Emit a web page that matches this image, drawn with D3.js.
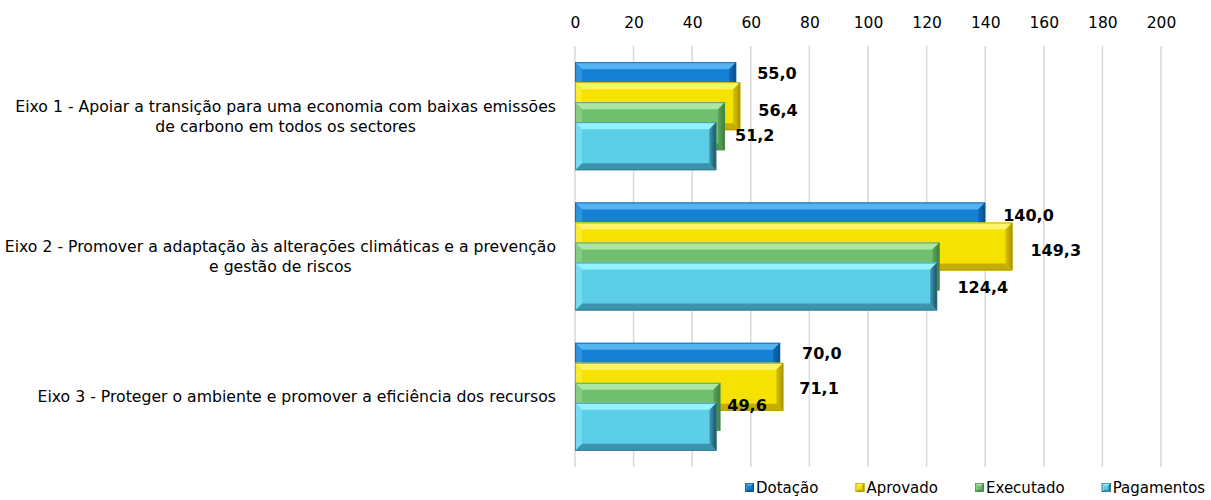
<!DOCTYPE html>
<html>
<head>
<meta charset="utf-8">
<script src="https://cdn.jsdelivr.net/npm/d3@7"></script>
<style>
  html, body { margin: 0; padding: 0; background: #fff; }
  svg { display: block; }
  text { font-family: "DejaVu Sans", sans-serif; fill: #000; }
</style>
</head>
<body>
<svg id="chart" width="1211" height="500"></svg>
<script>
// ---- data ----
const categories = [
  "Eixo 1 - Apoiar a transição para uma economia com baixas emissões|de carbono em todos os sectores",
  "Eixo 2 - Promover a adaptação às alterações climáticas e a prevenção|e gestão de riscos",
  "Eixo 3 - Proteger o ambiente e promover a eficiência dos recursos"
];
const seriesNames = ["Dotação", "Aprovado", "Executado", "Pagamentos"];
const dotacao    = [55.0, 140.0, 70.0];
const aprovado   = [56.4, 149.3, 71.1];
const executado  = [51.2, 124.4, 49.6];
const pagamentos = [48.2, 123.6, 48.3];
const tickValues = [0, 20, 40, 60, 80, 100, 120, 140, 160, 180, 200];
const labelledSeries = [true, true, true, false];
// label nudges [dx, dy] per category, per labelled series (relative to bar end / bar top)
const labelNudge = [
  [[3, 11], [0, 28], [-8, 33]],
  [[0, 12.5], [0, 27.5], [0, 44.5]],
  [[4, 10], [-2, 25], [-11, 22]]
];

const seriesValues = [dotacao, aprovado, executado, pagamentos];

const palette = [
  {face: "#1580d4", top: "#55b3f2", bottom: "#0b5ea6", left: "#2d93de", rIn: "#0f6cb8", rOut: "#0a4f8c", line: "#0a5a9e"},
  {face: "#f6e200", top: "#fff36a", bottom: "#c4ad00", left: "#faea2c", rIn: "#d6c000", rOut: "#a89400", line: "#a89400"},
  {face: "#6fbf6e", top: "#ace6a4", bottom: "#4e974d", left: "#85cd82", rIn: "#5aa758", rOut: "#3e7d3d", line: "#4a8b49"},
  {face: "#5ccee8", top: "#94f2ff", bottom: "#3c93ab", left: "#74dcf2", rIn: "#3b9ab3", rOut: "#1d4f5e", line: "#2f7489"}
];

const svg = d3.select("#chart");

const x = d3.scaleLinear().domain([0, 200]).range([575, 1161]);
const y = d3.scaleBand().domain(categories).range([46, 467]).paddingInner(0).paddingOuter(0);
const inner = d3.scalePoint().domain(seriesNames).range([0, 60]);
const barH = 48;
const groupH = 60 + barH;

// gradients for right ends
const defs = svg.append("defs");
palette.forEach((p, i) => {
  const id = "rg" + i;
  const lg = defs.append("linearGradient").attr("id", id).attr("x1", "0").attr("x2", "1").attr("y1", "0").attr("y2", "0");
  lg.append("stop").attr("offset", "0").attr("stop-color", p.rIn);
  lg.append("stop").attr("offset", "1").attr("stop-color", p.rOut);
  p.gradId = id;
});

// gridlines
svg.append("g")
  .selectAll("line")
  .data(tickValues)
  .join("line")
  .attr("x1", d => x(d)).attr("x2", d => x(d))
  .attr("y1", 46).attr("y2", 467)
  .attr("stroke", "#d9d9d9")
  .attr("stroke-width", 1.5);

// top axis labels
const axis = d3.axisTop(x).tickValues(tickValues).tickSize(0).tickPadding(0).tickFormat(d3.format("d"));
const axG = svg.append("g").attr("transform", "translate(0,28)").call(axis);
axG.select(".domain").remove();
axG.selectAll("text").attr("font-size", 15.5).attr("font-family", "DejaVu Sans, sans-serif").attr("fill", "#000");

// category labels: block right-aligned near the plot, lines centred in block
const catG = svg.append("g");
const blockRight = 556;
categories.forEach(c => {
  const lines = c.split("|");
  const cy = y(c) + y.bandwidth() / 2;
  const lh = 20;
  const t = catG.append("text").attr("text-anchor", "middle").attr("font-size", 15.7);
  const spans = lines.map((ln, i) => t.append("tspan")
      .attr("y", cy - (lines.length - 1) * lh / 2 + i * lh + 5.5)
      .text(ln));
  const maxW = d3.max(spans, s => s.node().getComputedTextLength());
  spans.forEach(s => s.attr("x", blockRight - maxW / 2));
});

function bevelBar(g, x0, y0, w, h, p, bev) {
  const x1 = x0 + w, y1 = y0 + h;
  const b = Math.min(bev, w / 2, h / 2);
  g.append("rect").attr("x", x0).attr("y", y0).attr("width", w).attr("height", h).attr("fill", p.face);
  g.append("polygon").attr("points", [[x0, y0], [x1, y0], [x1 - b, y0 + b], [x0 + b, y0 + b]].join(" ")).attr("fill", p.top);
  g.append("polygon").attr("points", [[x0, y1], [x1, y1], [x1 - b, y1 - b], [x0 + b, y1 - b]].join(" ")).attr("fill", p.bottom);
  g.append("polygon").attr("points", [[x0, y0], [x0 + b, y0 + b], [x0 + b, y1 - b], [x0, y1]].join(" ")).attr("fill", p.left);
  g.append("polygon").attr("points", [[x1, y0], [x1, y1], [x1 - b, y1 - b], [x1 - b, y0 + b]].join(" ")).attr("fill", `url(#${p.gradId})`);
  g.append("rect").attr("x", x0 + 0.5).attr("y", y0 + 0.5).attr("width", w - 1).attr("height", h - 1)
    .attr("fill", "none").attr("stroke", p.line).attr("stroke-width", 1).attr("stroke-opacity", 0.7);
}

// bars
const barsG = svg.append("g");
categories.forEach((c, ci) => {
  const top0 = y(c) + (y.bandwidth() - groupH) / 2;
  seriesNames.forEach((s, si) => {
    const v = seriesValues[si][ci];
    bevelBar(barsG.append("g"), x(0), top0 + inner(s), x(v) - x(0), barH, palette[si], 7);
  });
});

// data labels
const lblG = svg.append("g");
categories.forEach((c, ci) => {
  const top0 = y(c) + (y.bandwidth() - groupH) / 2;
  seriesNames.forEach((s, si) => {
    if (!labelledSeries[si]) return;
    const v = seriesValues[si][ci];
    const [dx, dy] = labelNudge[ci][si];
    lblG.append("text")
      .attr("x", x(v) + 18 + dx)
      .attr("y", top0 + inner(s) + dy)
      .attr("dy", "0.36em")
      .attr("font-size", 16)
      .attr("font-weight", "bold")
      .text(d3.format(".1f")(v).replace(".", ","));
  });
});

// legend
const legG = svg.append("g");
let lx = 745;
seriesNames.forEach((s, i) => {
  const ly = 483;
  const g = legG.append("g");
  bevelBar(g, lx, ly, 9, 9, palette[i], 2.5);
  const t = g.append("text").attr("x", lx + 11).attr("y", ly + 4.5).attr("dy", "0.36em").attr("font-size", 15).text(s);
  lx = lx + 11 + t.node().getComputedTextLength() + 37;
});
</script>
</body>
</html>
